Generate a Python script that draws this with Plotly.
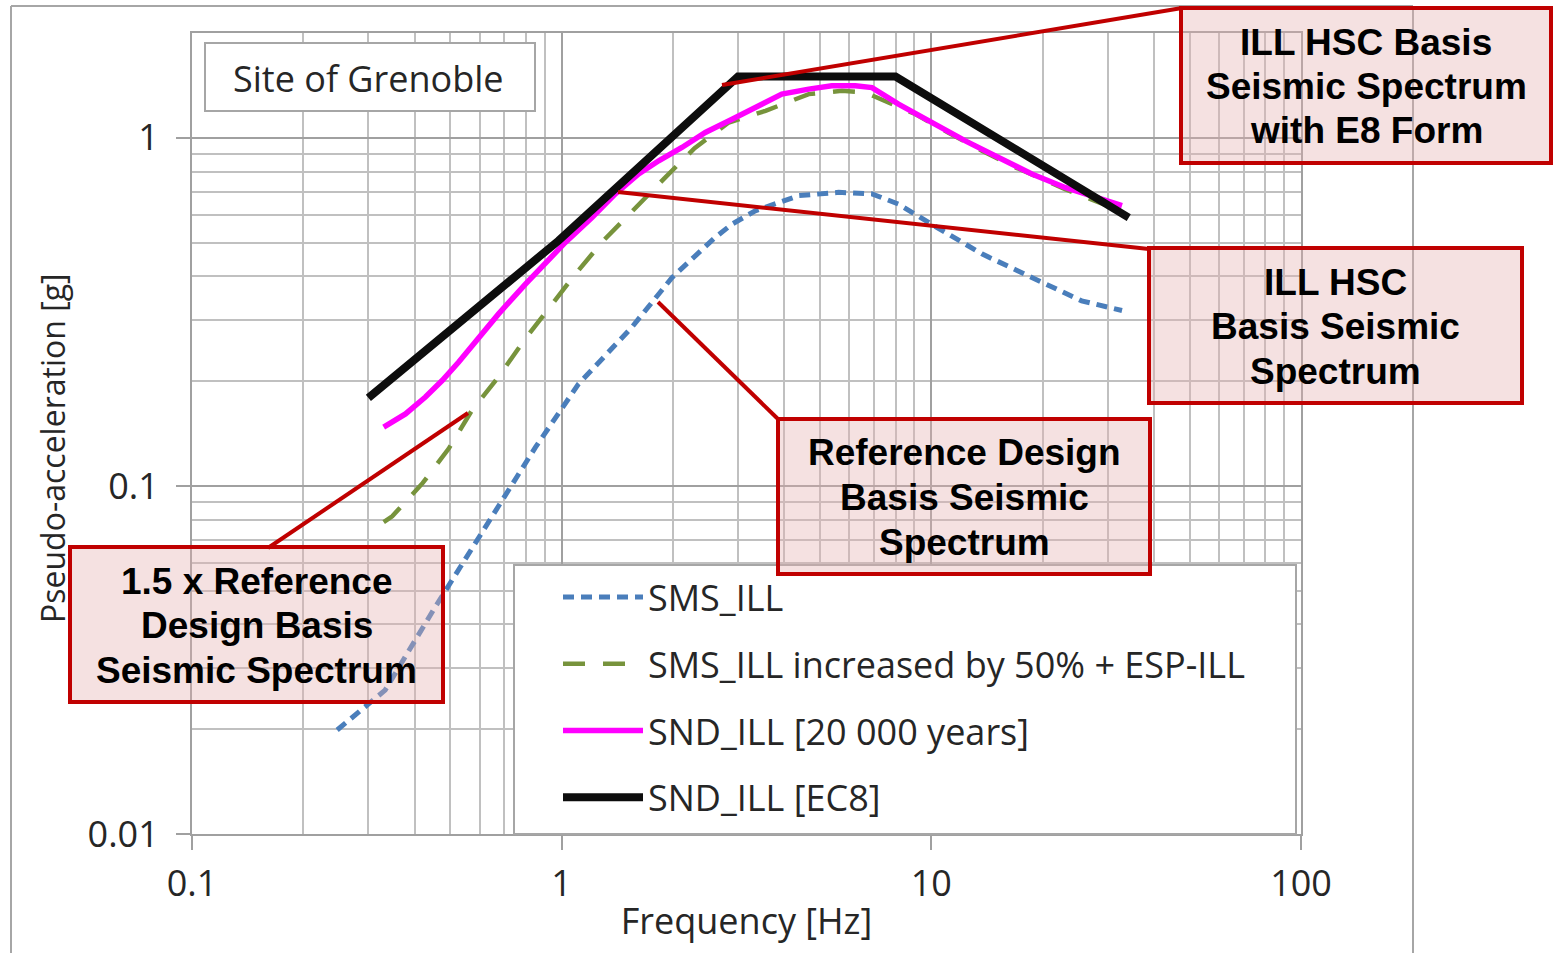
import plotly.graph_objects as go

# ---------------- data ----------------
sms_freq = [0.247, 0.333, 0.455, 0.622, 0.849, 1.11, 1.55, 1.99, 2.60, 2.89, 3.34, 4.38, 5.61, 6.91, 8.15, 10.0, 13.7, 18.7, 25.5, 32.8]
sms_acc = [0.0199, 0.0259, 0.0449, 0.0762, 0.129, 0.196, 0.286, 0.397, 0.517, 0.565, 0.617, 0.682, 0.697, 0.690, 0.645, 0.565, 0.464, 0.397, 0.340, 0.319]

sms15_freq = [0.33, 0.348, 0.421, 0.495, 0.572, 0.673, 0.794, 0.926, 1.089, 1.291, 1.566, 1.899, 2.289, 2.83, 3.56, 4.66, 5.73, 6.63, 7.82, 9.05, 11.1, 13.7, 16.9, 23.0, 28.4, 31.5]
sms15_acc = [0.0787, 0.0818, 0.102, 0.128, 0.165, 0.205, 0.263, 0.3245, 0.406, 0.504, 0.624, 0.766, 0.934, 1.106, 1.195, 1.335, 1.364, 1.35, 1.25, 1.17, 1.036, 0.918, 0.822, 0.712, 0.652, 0.626]

snd20k_freq = [0.330, 0.378, 0.428, 0.475, 0.526, 0.596, 0.675, 0.798, 0.903, 1.023, 1.208, 1.397, 1.615, 1.83, 2.115, 2.447, 2.89, 3.34, 3.94, 4.66, 5.38, 6.23, 6.91, 8.15, 10.0, 12.36, 15.2, 18.7, 23.0, 32.8]
snd20k_acc = [0.1475, 0.161, 0.180, 0.2008, 0.2266, 0.2673, 0.312, 0.380, 0.434, 0.5006, 0.590, 0.690, 0.787, 0.859, 0.938, 1.036, 1.13, 1.22, 1.335, 1.38, 1.41, 1.41, 1.394, 1.25, 1.106, 0.98, 0.878, 0.787, 0.720, 0.638]

ec8_freq = [0.30, 0.98, 3.0, 8.0, 34.2]
ec8_acc = [0.179, 0.506, 1.50, 1.50, 0.59]

series_names = ["SMS_ILL", "SMS_ILL increased by 50% + ESP-ILL", "SND_ILL [20 000 years]", "SND_ILL [EC8]"]

x_tickvals = [0.1, 1, 10, 100]
x_ticktext = ["0.1", "1", "10", "100"]
y_tickvals = [0.01, 0.1, 1]
y_ticktext = ["0.01", "0.1", "1"]

box_texts = [
    ["ILL HSC Basis", "Seismic Spectrum", "with E8 Form"],
    ["ILL HSC", "Basis Seismic", "Spectrum"],
    ["Reference Design", "Basis Seismic", "Spectrum"],
    ["1.5 x Reference", "Design Basis", "Seismic Spectrum"],
]
site_label = "Site of Grenoble"
x_title = "Frequency [Hz]"
y_title = "Pseudo-acceleration [g]"

# ---------------- layout helpers ----------------
W, H = 1554, 953
L, R, T, B = 192, 1301, 33, 834


def px(xp):
    return (xp - L) / (R - L)


def py(yp):
    return (B - yp) / (B - T)


TXT = "#262626"
GRID_MIN = "#C0C0C0"
GRID_MAJ = "#A0A0A0"
RED = "#C00000"
FONT = "Open Sans"
FS = 36

fig = go.Figure()
styles = [
    dict(color="#4A7EBB", width=5, dash="11px,7px"),
    dict(color="#77933C", width=4.5, dash="22px,18px"),
    dict(color="#FF00FF", width=5.5),
    dict(color="#0D0D0D", width=8),
]
data = [(sms_freq, sms_acc), (sms15_freq, sms15_acc), (snd20k_freq, snd20k_acc), (ec8_freq, ec8_acc)]
for i, ((f, a), name, st) in enumerate(zip(data, series_names, styles)):
    fig.add_trace(go.Scatter(x=f, y=a, mode="lines", name=name, line=st,
                             legendgroup=f"g{i}"))

shapes = []
# outer chart frame
for (x0, y0, x1, y1) in [(11, 6, 1413, 6), (11, 6, 11, 953), (1413, 6, 1413, 953)]:
    shapes.append(dict(type="line", xref="paper", yref="paper", x0=px(x0), y0=py(y0), x1=px(x1), y1=py(y1),
                       line=dict(color="#A6A6A6", width=2), layer="above"))
# site label box and legend box
shapes.append(dict(type="rect", xref="paper", yref="paper", x0=px(205), y0=py(43), x1=px(535), y1=py(111),
                   fillcolor="white", line=dict(color="#A6A6A6", width=2), layer="above"))
shapes.append(dict(type="rect", xref="paper", yref="paper", x0=px(514), y0=py(565), x1=px(1296), y1=py(834),
                   fillcolor="white", line=dict(color="#A6A6A6", width=2), layer="above"))
# connector lines
for (x0, y0, x1, y1) in [(722, 85, 1182, 8), (618, 192, 1149, 249), (658, 302, 779, 420), (468, 413, 268, 548)]:
    shapes.append(dict(type="line", xref="paper", yref="paper", x0=px(x0), y0=py(y0), x1=px(x1), y1=py(y1),
                       line=dict(color=RED, width=4), layer="above"))
# callout boxes
boxes = [(1181, 8, 1551, 163), (1149, 248, 1522, 403), (778, 419, 1150, 574), (70, 547, 443, 702)]
for (x0, y0, x1, y1) in boxes:
    shapes.append(dict(type="rect", xref="paper", yref="paper", x0=px(x0), y0=py(y0), x1=px(x1), y1=py(y1),
                       fillcolor="rgba(228,175,175,0.38)", line=dict(color=RED, width=4), layer="above"))

annotations = []
for (x0, y0, x1, y1), lines in zip(boxes, box_texts):
    cx = (x0 + x1) / 2
    cy = (y0 + y1) / 2 + 1
    for k, line_txt in enumerate(lines):
        annotations.append(dict(text=line_txt, xref="paper", yref="paper", x=px(cx), y=py(cy + (k - 1) * 44.5),
                                xanchor="center", yanchor="middle", showarrow=False,
                                font=dict(family="Liberation Sans", size=37, color="black", weight="bold")))
annotations.append(dict(text=site_label, xref="paper", yref="paper", x=px(368), y=py(78),
                        xanchor="center", yanchor="middle", showarrow=False,
                        font=dict(family=FONT, size=FS, color=TXT)))
# y-axis title (placed to match the reference, slightly below plot centre)
annotations.append(dict(text=y_title, xref="paper", yref="paper", x=px(53), y=py(448),
                        xanchor="center", yanchor="middle", showarrow=False, textangle=-90,
                        font=dict(family=FONT, size=32, color=TXT)))

axis_common = dict(
    type="log",
    showgrid=True, gridcolor=GRID_MAJ, gridwidth=2,
    showline=True, linecolor="#A0A0A0", linewidth=2, mirror=True,
    ticks="outside", ticklen=14, tickwidth=2, tickcolor="#A0A0A0",
    tickfont=dict(family=FONT, size=FS, color=TXT),
    minor=dict(dtick="D1", showgrid=True, gridcolor=GRID_MIN, gridwidth=2, ticks=""),
    zeroline=False,
)

fig.update_layout(
    width=W, height=H,
    margin=dict(l=L, r=W - R, t=T, b=H - B),
    paper_bgcolor="white", plot_bgcolor="white",
    xaxis=dict(axis_common, range=[-1, 2], tickvals=x_tickvals, ticktext=x_ticktext,
               ticklabelstandoff=3,
               title=dict(text=x_title, font=dict(family=FONT, size=FS, color=TXT), standoff=3)),
    yaxis=dict(axis_common, range=[-2, 0.30103], tickvals=y_tickvals, ticktext=y_ticktext,
               ticklabelstandoff=10),
    legend=dict(x=px(558), y=py(567), xanchor="left", yanchor="top", bgcolor="rgba(0,0,0,0)",
                borderwidth=0, font=dict(family=FONT, size=FS, color=TXT), itemwidth=80,
                tracegroupgap=17, traceorder="grouped"),
    shapes=shapes,
    annotations=annotations,
    showlegend=True,
)

fig.write_html("out.html", config={"displayModeBar": False},
               post_script="document.body.style.margin='0px';document.body.style.overflow='hidden';")
